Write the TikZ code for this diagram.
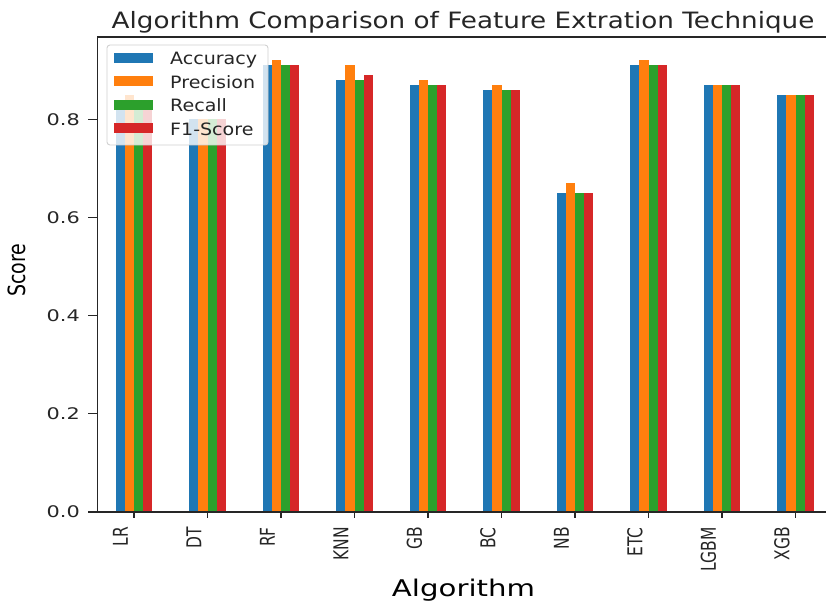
\documentclass[tikz,border=0pt]{standalone}
\usepackage{fontspec}
\usepackage{graphicx}
\setmainfont{DejaVu Sans}
\definecolor{tabblue}{HTML}{1F77B4}
\definecolor{taborange}{HTML}{FF7F0E}
\definecolor{tabgreen}{HTML}{2CA02C}
\definecolor{tabred}{HTML}{D62728}
\definecolor{axisgray}{HTML}{262626}
\begin{document}
\begin{tikzpicture}[x=1pt,y=-1pt,
  spine/.style={draw=axisgray,line width=1.3pt},
  tickmark/.style={draw=axisgray,line width=1.1pt},
  ylab/.style={anchor=east,inner sep=0pt,font=\fontsize{16}{19}\selectfont,text=axisgray},
  xlab/.style={anchor=east,rotate=90,inner sep=0pt,font=\fontsize{15.5}{18}\selectfont,text=axisgray},
  legframe/.style={draw=black!18,line width=0.9pt,fill=white,fill opacity=0.8,rounded corners=3pt},
  legtext/.style={anchor=base west,inner sep=0pt,font=\fontsize{17}{20}\selectfont,text=axisgray}]
\useasboundingbox (0,0) rectangle (826,601);
\fill[white] (0,0) rectangle (826,601);

% bars: x(i) = 134 + 73.5 i, y(v) = 512 - 491 v
\foreach \nm/\a/\p/\r/\f [count=\i from 0] in
  {LR/0.82/0.85/0.82/0.82, DT/0.80/0.80/0.80/0.80, RF/0.91/0.92/0.91/0.91,
   KNN/0.88/0.91/0.88/0.89, GB/0.87/0.88/0.87/0.87, BC/0.86/0.87/0.86/0.86,
   NB/0.65/0.67/0.65/0.65, ETC/0.91/0.92/0.91/0.91, LGBM/0.87/0.87/0.87/0.87,
   XGB/0.85/0.85/0.85/0.85}{
  \pgfmathsetmacro\cx{134+73.5*\i}
  \foreach \v/\c [count=\j from 0] in {\a/tabblue,\p/taborange,\r/tabgreen,\f/tabred}{
    \fill[\c] ({\cx-18.375+9.1875*\j},512) rectangle ({\cx-18.375+9.1875*(\j+1)},{512-491*\v});
  }
  \draw[tickmark] (\cx,512) -- (\cx,518);
  \node[xlab] (xt-\i) at ({\cx-13.5},527) {\scalebox{1}[1.32]{\nm}};
}

% y ticks
\foreach \t [count=\k from 0] in {0.0,0.2,0.4,0.6,0.8}{
  \pgfmathsetmacro\yy{512-491*\t}
  \draw[tickmark] (97.25,\yy) -- (88,\yy);
  \node[ylab] (yt-\k) at (80,\yy) {\scalebox{1.3}[1]{\t}};
}

% spines
\draw[spine] (97.25,37) -- (97.25,512) -- (826,512);
\draw[spine] (97.25,37) -- (826,37);

% legend
\draw[legframe] (107,45) rectangle (268,145);
\foreach \lab/\c [count=\k from 0] in {Accuracy/tabblue,Precision/taborange,Recall/tabgreen,F1-Score/tabred}{
  \pgfmathsetmacro\cy{57.7+23.5*\k}
  \fill[\c] (114,{\cy-5}) rectangle (153,{\cy+5});
  \node[legtext] (leg-\k) at (170,{\cy+7.3}) {\scalebox{1.12}[1]{\lab}};
}

% title and axis labels
\node[anchor=base,inner sep=0pt,font=\fontsize{22.5}{27}\selectfont,text=axisgray] (title) at (463,28.3)
  {\scalebox{1.165}[1]{Algorithm Comparison of Feature Extration Technique}};
\node[anchor=base,inner sep=0pt,font=\fontsize{23}{27}\selectfont,text=black] (xlabel) at (463.5,596.5)
  {\scalebox{1.27}[1]{Algorithm}};
\node[anchor=base,rotate=90,inner sep=0pt,font=\fontsize{19}{23}\selectfont,text=black] (ylabel) at (25,270)
  {\scalebox{1}[1.25]{Score}};
\end{tikzpicture}
\end{document}
